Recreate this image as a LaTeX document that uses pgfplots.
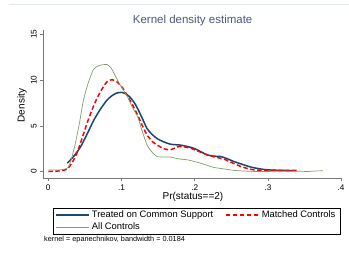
\documentclass[border=0pt]{standalone}
\usepackage{fontspec}
\setmainfont{Liberation Sans}
\usepackage{pgfplots}
\pgfplotsset{compat=1.18}
\definecolor{stnavy}{RGB}{26,71,111}
\definecolor{stgreen}{RGB}{128,158,104}
\definecolor{sttitle}{RGB}{78,88,118}
\definecolor{staxis}{RGB}{120,120,120}
\begin{document}
\begin{tikzpicture}
\path[use as bounding box] (-43.3pt,-75.7pt) rectangle (305.7pt,178.3pt);
\draw[color={rgb,255:red,225;green,232;blue,240}, line width=0.6pt] (-34pt,174pt) -- (305.7pt,174pt);
\begin{axis}[
  at={(0,0)}, anchor=south west,
  scale only axis, width=298.7pt, height=148.3pt,
  xmin=-0.0068, xmax=0.4012, ymin=-0.72, ymax=15.47,
  axis x line=bottom, axis y line=left,
  axis line style={-, staxis, line width=0.6pt},
  tick style={staxis, line width=0.6pt},
  tick align=outside, major tick length=3pt,
  xtick={0,0.1,0.2,0.3,0.4}, xticklabels={0,.1,.2,.3,.4},
  ytick={0,5,10,15}, yticklabels={0,5,10,15},
  /pgf/number format/assume math mode=true,
  ticklabel style={font=\fontsize{8.2}{9}\selectfont, black},
  yticklabel style={rotate=90, anchor=south},
  xlabel={Pr(status==2)}, ylabel={Density},
  label style={font=\fontsize{8}{9}\selectfont},
  every axis x label/.style={at={(axis description cs:0.501,-0.126)}, anchor=center},
  every axis y label/.style={at={(axis description cs:-0.071,0.49)}, rotate=90, anchor=center},
  title={Kernel density estimate},
  every axis title/.style={at={(axis description cs:0.5,1.067)}, anchor=center, font=\fontsize{11.5}{12}\selectfont, text=sttitle},
  legend columns=2,
  legend cell align=left,
  legend image code/.code={\draw[#1] (0pt,0pt) -- (33pt,0pt);},
  legend style={
    at={(axis description cs:0.0315,-0.202)}, anchor=north west,
    inner xsep=2pt, inner ysep=0.5pt,
    font=\fontsize{9.4}{10}\selectfont,
    nodes={text height=6.5pt, text depth=2pt, inner ysep=2pt, inner xsep=2.5pt},
    /tikz/every even column/.append style={column sep=9pt},
  },
]
\addplot[draw=stnavy, line width=1.5pt, smooth, tension=0.4] coordinates {
(0.026,0.94) (0.035,1.7) (0.044,2.7) (0.053,4.1) (0.062,5.6) (0.071,6.8) (0.080,7.8) (0.087,8.3) (0.094,8.6) (0.101,8.65) (0.107,8.45) (0.112,8.1) (0.117,7.6) (0.122,6.9) (0.128,5.9) (0.135,4.7) (0.142,4.05) (0.149,3.6) (0.158,3.25) (0.167,3.0) (0.181,2.9) (0.19,2.75) (0.199,2.55) (0.208,2.2) (0.217,1.84) (0.226,1.7) (0.236,1.65) (0.245,1.4) (0.254,1.1) (0.265,0.8) (0.277,0.5) (0.29,0.3) (0.30,0.2) (0.318,0.14) (0.334,0.12)
};
\addlegendentry{Treated on Common Support}
\addplot[draw=red, line width=1.5pt, dash pattern=on 4.5pt off 2.5pt, smooth, tension=0.4] coordinates {
(0,0.03) (0.01,0.05) (0.02,0.15) (0.026,0.3) (0.032,0.9) (0.039,2.0) (0.046,3.6) (0.053,5.3) (0.060,6.8) (0.067,8.1) (0.074,9.1) (0.080,9.8) (0.087,10.05) (0.094,9.8) (0.101,9.2) (0.108,8.3) (0.115,7.3) (0.122,6.2) (0.128,5.1) (0.135,4.0) (0.142,3.3) (0.149,2.9) (0.158,2.5) (0.167,2.4) (0.176,2.7) (0.183,2.75) (0.195,2.55) (0.206,2.2) (0.217,1.84) (0.228,1.6) (0.24,1.37) (0.252,0.95) (0.263,0.57) (0.272,0.35) (0.281,0.2) (0.30,0.14) (0.32,0.15) (0.341,0.15)
};
\addlegendentry{Matched Controls}
\addplot[draw=stgreen, line width=0.7pt, smooth, tension=0.4] coordinates {
(0,0.2) (0.016,0.2) (0.026,0.4) (0.031,1.2) (0.037,3.1) (0.043,5.5) (0.048,7.8) (0.055,9.8) (0.062,11.2) (0.070,11.6) (0.080,11.7) (0.086,11.3) (0.092,10.4) (0.098,9.5) (0.108,8.2) (0.115,7.0) (0.122,6.0) (0.128,4.5) (0.135,2.9) (0.142,2.1) (0.149,1.65) (0.158,1.6) (0.167,1.6) (0.175,1.45) (0.181,1.37) (0.19,1.3) (0.20,1.1) (0.208,0.94) (0.217,0.7) (0.226,0.47) (0.24,0.3) (0.254,0.14) (0.268,0.07) (0.281,0.03) (0.30,0.03) (0.32,0.05) (0.34,0.06) (0.355,0.02) (0.365,0.08) (0.375,0.1)
};
\addlegendentry{All Controls}
\end{axis}
\node[anchor=west, font=\fontsize{7.3}{8}\selectfont, inner sep=0pt] at (0.7pt,-61.7pt) {kernel = epanechnikov, bandwidth = 0.0184};
\end{tikzpicture}
\end{document}
